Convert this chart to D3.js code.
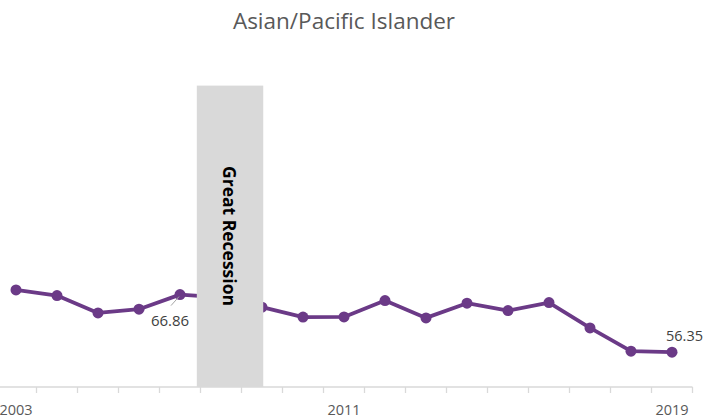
<!DOCTYPE html>
<html><head><meta charset="utf-8">
<script src="https://cdn.jsdelivr.net/npm/d3@7"></script>
<style>html,body{margin:0;padding:0;background:#fff;overflow:hidden}</style>
</head><body>
<svg id="c" width="705" height="419"></svg>
<script>
const years = [2003,2004,2005,2006,2007,2008,2009,2010,2011,2012,2013,2014,2015,2016,2017,2018,2019];
const values = [67.72,66.68,63.52,64.20,66.86,66.35,64.56,62.76,62.78,65.77,62.61,65.29,63.94,65.40,60.78,56.53,56.35];
const tickLabels = [2003,2011,2019];
const labeledYears = [2007,2019];
const recession = {start:2007.41, end:2009.03, label:"Great Recession"};
const title = "Asian/Pacific Islander";

const svg = d3.select("#c");
const font = "'Open Sans', 'Liberation Sans', sans-serif";
const x = d3.scaleLinear().domain([2003,2019]).range([16,672]);
const y = d3.scaleLinear().domain([50,110]).range([387,58.2]);
const purple = "#6b3a87";

svg.append("text").attr("x",344).attr("y",29).attr("text-anchor","middle")
  .attr("font-family",font).attr("font-size",22.5).attr("fill","#595959").text(title);

// axis
const axisG = svg.append("g").attr("transform","translate(0,387)");
axisG.append("line").attr("x1",-5).attr("x2",x(2019.5)).attr("stroke","#d9d9d9").attr("stroke-width",1.3);
const tickPos = d3.range(2003.5, 2020, 1);
axisG.selectAll("line.t").data(tickPos).join("line").attr("class","t")
  .attr("x1",d=>x(d)).attr("x2",d=>x(d)).attr("y1",0).attr("y2",6)
  .attr("stroke","#d9d9d9").attr("stroke-width",1.3);
axisG.selectAll("text").data(tickLabels).join("text")
  .attr("x",d=>x(d)).attr("y",28).attr("text-anchor","middle")
  .attr("font-family",font).attr("font-size",14.5).attr("fill","#595959").text(d=>d);

// line
const data = years.map((yr,i)=>({yr, v:values[i]}));
svg.append("path").datum(data)
  .attr("d", d3.line().x(d=>x(d.yr)).y(d=>y(d.v)))
  .attr("fill","none").attr("stroke",purple).attr("stroke-width",3.8).attr("stroke-linejoin","round");
svg.selectAll("circle").data(data).join("circle")
  .attr("cx",d=>x(d.yr)).attr("cy",d=>y(d.v)).attr("r",5.5).attr("fill",purple);

// labels
const d07 = data.find(d=>d.yr===labeledYears[0]);
svg.append("line").attr("x1",x(d07.yr)-1).attr("y1",y(d07.v)+2).attr("x2",x(d07.yr)-9).attr("y2",y(d07.v)+11)
  .attr("stroke","#a6a6a6").attr("stroke-width",1);
svg.append("text").attr("x",x(d07.yr)-10).attr("y",y(d07.v)+31).attr("text-anchor","middle")
  .attr("font-family",font).attr("font-size",15).attr("fill","#404040").text(d07.v.toFixed(2));
const d19 = data.find(d=>d.yr===labeledYears[1]);
svg.append("text").attr("x",703).attr("y",y(d19.v)-11).attr("text-anchor","end")
  .attr("font-family",font).attr("font-size",14.5).attr("fill","#404040").text(d19.v.toFixed(2));

// recession box on top
svg.append("rect").attr("x",x(recession.start)).attr("width",x(recession.end)-x(recession.start))
  .attr("y",y(105)).attr("height",y(50)-y(105)).attr("fill","#d9d9d9");
const cx = (x(recession.start)+x(recession.end))/2;
svg.append("text").attr("transform",`translate(${cx},236) rotate(90)`)
  .attr("text-anchor","middle").attr("dominant-baseline","central")
  .attr("font-family",font).attr("font-weight","bold").attr("font-size",17.5).attr("fill","#000").text(recession.label);
</script>
</body></html>
